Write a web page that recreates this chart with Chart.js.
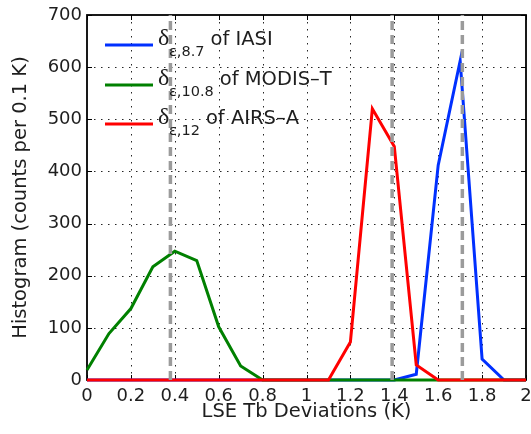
<!DOCTYPE html>
<html>
<head>
<meta charset="utf-8">
<script src="https://cdn.jsdelivr.net/npm/chart.js@4.4.1/dist/chart.umd.min.js"></script>
<style>
  html, body { margin: 0; padding: 0; background: #fff; }
  #wrap { width: 531px; height: 434px; }
</style>
</head>
<body>
<div id="wrap"><canvas id="histChart" width="531" height="434"></canvas></div>
<script>
// Histogram bins (K) and counts per 0.1 K
const binCenters = [0, 0.1, 0.2, 0.3, 0.4, 0.5, 0.6, 0.7, 0.8, 0.9, 1.0,
                    1.1, 1.2, 1.3, 1.4, 1.5, 1.6, 1.7, 1.8, 1.9, 2.0];
const iasiCounts  = [0, 0, 0, 0, 0, 0, 0, 0, 0, 0, 0, 0, 0, 0, 0, 11, 412, 612, 40, 0, 0];
const modisCounts = [19, 89, 137, 217, 247, 229, 102, 27, 0, 0, 0, 0, 0, 0, 0, 0, 0, 0, 0, 0, 0];
const airsCounts  = [0, 0, 0, 0, 0, 0, 0, 0, 0, 0, 0, 0, 73, 520, 448, 29, 0, 0, 0, 0, 0];

// dashed grey vertical lines (mean deviation of each sensor)
const meanLines = [0.38, 1.39, 1.71];

const xTickLabels = ['0', '0.2', '0.4', '0.6', '0.8', '1', '1.2', '1.4', '1.6', '1.8', '2'];
const yTickLabels = ['0', '100', '200', '300', '400', '500', '600', '700'];

// legend entries: subscript and text after the delta
const legendSubs  = ['\u03b5,8.7', '\u03b5,10.8', '\u03b5,12'];
const legendTexts = ['of IASI', 'of MODIS\u2013T', 'of AIRS\u2013A'];

const BLUE = 'rgb(0, 48, 255)';
const GREEN = 'rgb(0, 128, 0)';
const RED = 'rgb(255, 0, 0)';
const FONT = "'DejaVu Sans', sans-serif";
const TEXT = '#1e1e1e';

function toPoints(values) {
    return binCenters.map((x, i) => ({ x: x, y: values[i] }));
}

function seriesDataset(values, color) {
    return {
        data: toPoints(values),
        borderColor: color,
        backgroundColor: color,
        borderWidth: 3,
        pointRadius: 0,
        tension: 0,
        clip: false
    };
}

// mean lines go first so they are drawn on top
const meanDatasets = meanLines.map(m => ({
    data: [{ x: m, y: 0 }, { x: m, y: 700 }],
    borderColor: 'rgb(155, 155, 155)',
    borderWidth: 3.5,
    borderDash: [9, 5],
    pointRadius: 0,
    clip: false
}));

// Dotted grid, box around the plot and inward tick marks
const boxPlugin = {
    id: 'boxPlugin',
    beforeDatasetsDraw(chart) {
        const { ctx, chartArea: a, scales } = chart;
        ctx.save();
        // dotted grid
        ctx.strokeStyle = 'rgba(0,0,0,0.85)';
        ctx.lineWidth = 1;
        ctx.setLineDash([1.5, 5.5]);
        scales.x.ticks.forEach((t, i, arr) => {
            if (i === 0 || i === arr.length - 1) return;
            const px = Math.round(scales.x.getPixelForValue(t.value)) + 0.5;
            ctx.beginPath();
            ctx.moveTo(px, a.top); ctx.lineTo(px, a.bottom);
            ctx.stroke();
        });
        scales.y.ticks.forEach((t, i, arr) => {
            if (i === 0 || i === arr.length - 1) return;
            const py = Math.round(scales.y.getPixelForValue(t.value)) + 0.5;
            ctx.beginPath();
            ctx.moveTo(a.left, py); ctx.lineTo(a.right, py);
            ctx.stroke();
        });
        ctx.setLineDash([]);

        ctx.strokeStyle = '#000';
        const tl = 5;
        scales.x.ticks.forEach(t => {
            const px = Math.round(scales.x.getPixelForValue(t.value)) + 0.5;
            ctx.beginPath();
            ctx.moveTo(px, a.bottom); ctx.lineTo(px, a.bottom - tl);
            ctx.moveTo(px, a.top); ctx.lineTo(px, a.top + tl);
            ctx.stroke();
        });
        scales.y.ticks.forEach(t => {
            const py = Math.round(scales.y.getPixelForValue(t.value)) + 0.5;
            ctx.beginPath();
            ctx.moveTo(a.left, py); ctx.lineTo(a.left + tl, py);
            ctx.moveTo(a.right, py); ctx.lineTo(a.right - tl, py);
            ctx.stroke();
        });
        ctx.lineWidth = 1.8;
        ctx.strokeRect(a.left, a.top, a.right - a.left, a.bottom - a.top);
        ctx.restore();
    }
};

// Legend with subscripts, no frame
const legendPlugin = {
    id: 'subLegend',
    afterDraw(chart) {
        const { ctx } = chart;
        const colors = [BLUE, GREEN, RED];
        const baselines = [45, 85, 124];
        ctx.save();
        ctx.fillStyle = TEXT;
        ctx.textBaseline = 'alphabetic';
        ctx.textAlign = 'left';
        legendTexts.forEach((txt, i) => {
            const y = baselines[i];
            ctx.strokeStyle = colors[i];
            ctx.lineWidth = 3;
            ctx.beginPath();
            ctx.moveTo(105, y);
            ctx.lineTo(153, y);
            ctx.stroke();

            ctx.font = "24px 'Liberation Serif', serif";
            ctx.fillText('\u03b4', 158, y);
            ctx.font = '14.5px ' + FONT;
            ctx.fillText(legendSubs[i], 169, y + 11);
            const w = ctx.measureText(legendSubs[i]).width;
            ctx.font = '19.5px ' + FONT;
            ctx.fillText(txt, 169 + w + 6, y);
        });
        ctx.restore();
    }
};

new Chart(document.getElementById('histChart'), {
    type: 'line',
    data: {
        datasets: [
            ...meanDatasets,
            seriesDataset(airsCounts, RED),
            seriesDataset(modisCounts, GREEN),
            seriesDataset(iasiCounts, BLUE)
        ]
    },
    options: {
        responsive: false,
        animation: false,
        devicePixelRatio: 1,
        layout: { padding: { left: 0, right: 5, top: 15, bottom: 0 } },
        plugins: {
            legend: { display: false },
            tooltip: { enabled: false }
        },
        scales: {
            x: {
                type: 'linear',
                min: 0,
                max: 2,
                afterFit: s => { s.height = 54; s.paddingLeft = 0; s.paddingRight = 0; },
                ticks: {
                    stepSize: 0.2,
                    padding: 6,
                    maxRotation: 0,
                    autoSkip: false,
                    color: TEXT,
                    font: { family: FONT, size: 18 },
                    callback: (v, i) => xTickLabels[i]
                },
                grid: { display: false, drawTicks: false },
                border: { display: false },
                title: {
                    display: true,
                    text: 'LSE Tb Deviations (K)',
                    color: TEXT,
                    font: { family: FONT, size: 19.5 },
                    padding: { top: 0, bottom: 10 }
                }
            },
            y: {
                min: 0,
                max: 700,
                afterFit: s => { s.width = 87; s.paddingTop = 0; s.paddingBottom = 0; },
                ticks: {
                    stepSize: 100,
                    padding: 5,
                    color: TEXT,
                    font: { family: FONT, size: 18 },
                    callback: (v, i) => yTickLabels[i]
                },
                grid: { display: false, drawTicks: false },
                border: { display: false },
                title: {
                    display: true,
                    text: 'Histogram (counts per 0.1 K)',
                    color: TEXT,
                    font: { family: FONT, size: 19.5 },
                    padding: { top: 9, bottom: 0 }
                }
            }
        }
    },
    plugins: [boxPlugin, legendPlugin]
});
</script>
</body>
</html>
